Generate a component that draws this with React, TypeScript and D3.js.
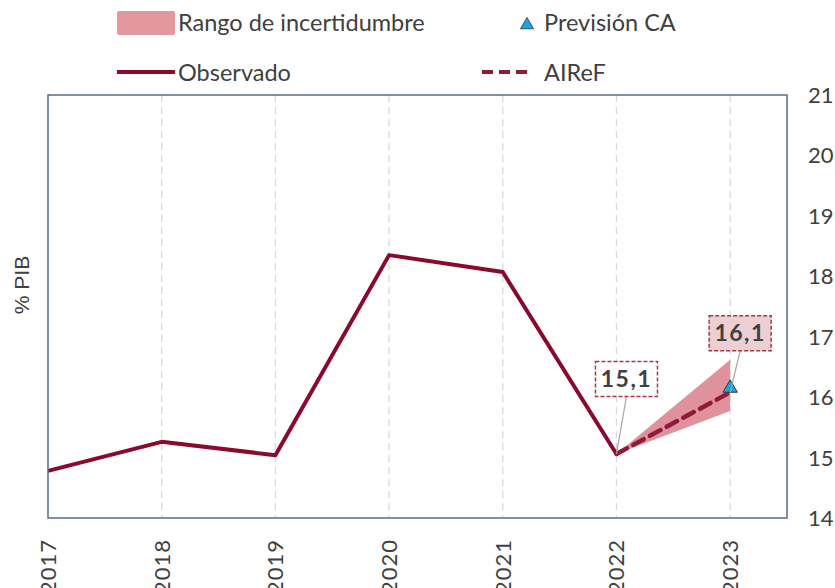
import React from "react";
import * as d3 from "d3";

const years = ["2017", "2018", "2019", "2020", "2021", "2022", "2023"];
const observed = [14.78, 15.26, 15.04, 18.35, 18.07, 15.06];
const aireFYears = ["2022", "2023"];
const aireF = [15.06, 16.08];
const bandLow = [15.06, 15.77];
const bandHigh = [15.06, 16.62];
const caForecast = { year: "2023", value: 16.15 };
const yTicks = [14, 15, 16, 17, 18, 19, 20, 21];
const labels = [
  { year: "2022", value: 15.06, text: "15,1", dx: 10, dy: -75, fill: "#ffffff" },
  { year: "2023", value: 16.08, text: "16,1", dx: 10, dy: -59, fill: "#EBCFD2" },
];

const W = 835;
const H = 588;
const left = 48;
const right = 787;
const top = 95;
const bottom = 518;
const font = "Lato, 'Open Sans', sans-serif";
const textColor = "#404040";
const lineColor = "#8A0A2E";
const dashColor = "#8E1B37";

export default function App() {
  const step = (right - left) / 6.5;
  const x = d3.scalePoint<string>().domain(years).range([left, left + step * 6]);
  const y = d3.scaleLinear().domain([14, 21]).range([bottom, top]);

  const obsLine = d3
    .line<number>()
    .x((_, i) => x(years[i])!)
    .y((d) => y(d))(observed)!;
  const aLine = d3
    .line<number>()
    .x((_, i) => x(aireFYears[i])!)
    .y((d) => y(d))(aireF)!;
  const band = d3
    .area<number>()
    .x((_, i) => x(aireFYears[i])!)
    .y0((_, i) => y(bandLow[i]))
    .y1((_, i) => y(bandHigh[i]))(aireFYears.map((_, i) => i))!;

  const tx = x(caForecast.year)!;
  const ty = y(caForecast.value);
  const tri = d3.symbol().type(d3.symbolTriangle).size(90)()!;

  return (
    <svg width={W} height={H} style={{ position: "absolute", left: 0, top: 0 }}>
      <rect x={0} y={0} width={W} height={H} fill="#ffffff" />
      {/* legend */}
      <rect x={117} y={11} width={58} height={24} rx={2} fill="#E3979F" />
      <text x={178} y={31} fontFamily={font} fontSize={23.5} fill={textColor}>
        Rango de incertidumbre
      </text>
      <path d={d3.symbol().type(d3.symbolTriangle).size(75)()!} transform="translate(527,25)" fill="#1AA3DC" stroke="#333" strokeWidth={0.8} />
      <text x={544} y={31} fontFamily={font} fontSize={23.5} fill={textColor}>
        Previsión CA
      </text>
      <line x1={117} x2={175} y1={72} y2={72} stroke={lineColor} strokeWidth={4} />
      <text x={178} y={81} fontFamily={font} fontSize={23.5} fill={textColor}>
        Observado
      </text>
      <line x1={482} x2={528} y1={72} y2={72} stroke={dashColor} strokeWidth={4} strokeDasharray="11 6" />
      <text x={544} y={81} fontFamily={font} fontSize={23.5} fill={textColor}>
        AIReF
      </text>

      {/* gridlines */}
      {years.slice(1).map((yr) => (
        <line key={yr} x1={x(yr)} x2={x(yr)} y1={top} y2={bottom} stroke="#D9D9D9" strokeWidth={1.3} strokeDasharray="7 5" />
      ))}

      {/* band */}
      <path d={band} fill="#E0929C" />
      <path d={obsLine} fill="none" stroke={lineColor} strokeWidth={4} strokeLinejoin="round" />
      <path d={aLine} fill="none" stroke={dashColor} strokeWidth={4.5} strokeDasharray="12 7" strokeLinecap="round" />
      <path d={tri} transform={`translate(${tx},${ty})`} fill="#1AA3DC" stroke="#3A3A3A" strokeWidth={1} />

      {/* frame */}
      <rect x={left} y={top} width={right - left} height={bottom - top} fill="none" stroke="#5B6B82" strokeWidth={1.5} />

      {/* data labels */}
      {labels.map((l) => {
        const px = x(l.year)!;
        const py = y(l.value);
        const cx = px + l.dx;
        const cy = py + l.dy;
        const bw = 62;
        const bh = 35;
        return (
          <g key={l.text}>
            <line x1={px} y1={py} x2={cx} y2={cy + bh / 2} stroke="#A6A6A6" strokeWidth={1.2} />
            <rect x={cx - bw / 2} y={cy - bh / 2} width={bw} height={bh} fill={l.fill} stroke="#A33A4A" strokeWidth={1.5} strokeDasharray="4 2" />
            <text x={cx} y={cy + 8} textAnchor="middle" fontFamily={font} fontWeight="bold" fontSize={23} fill={textColor} letterSpacing={1.5}>
              {l.text}
            </text>
          </g>
        );
      })}

      {/* right axis ticks */}
      {yTicks.map((t) => (
        <text key={t} x={808} y={y(t) + 8} fontFamily={font} fontSize={22} fill={textColor}>
          {t}
        </text>
      ))}

      {/* x axis labels */}
      {years.map((yr) => (
        <text key={yr} transform={`translate(${x(yr)! + 8},${539}) rotate(-90)`} textAnchor="end" fontFamily={font} fontSize={22} fill={textColor} letterSpacing={1}>
          {yr}
        </text>
      ))}

      {/* y axis title */}
      <text transform="translate(29,285) rotate(-90)" textAnchor="middle" fontFamily="'Liberation Sans', Arial, sans-serif" fontSize={21} fill={textColor}>
        % PIB
      </text>
    </svg>
  );
}
